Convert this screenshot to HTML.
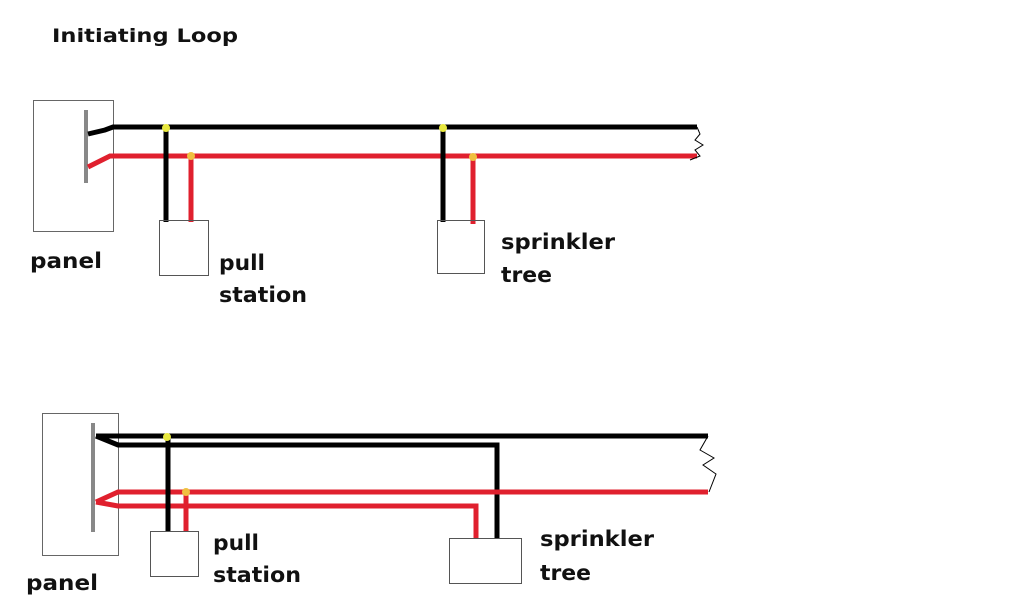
<!DOCTYPE html>
<html><head><style>
body{margin:0;background:#fff;width:1024px;height:600px;overflow:hidden}
svg text{font-family:"DejaVu Sans","Liberation Sans",sans-serif;font-weight:bold;fill:#111}
</style></head><body>
<svg width="1024" height="600" viewBox="0 0 1024 600">
<text x="52" y="42" font-size="19" textLength="186" lengthAdjust="spacingAndGlyphs">Initiating Loop</text>
<!-- top -->
<rect x="33.5" y="100.5" width="80" height="131" fill="#fff" stroke="#666" stroke-width="1"/>
<line x1="86" y1="110" x2="86" y2="183" stroke="#888" stroke-width="4"/>
<polyline points="88,134 105,130 113,127 697,127" fill="none" stroke="#000" stroke-width="5"/>
<polyline points="88,167 110,156 697,156" fill="none" stroke="#e0202e" stroke-width="5"/>
<polyline points="697,127 700,134 695,140 703,145 695,150 700,156 690,160" fill="none" stroke="#000" stroke-width="1"/>
<line x1="166" y1="128" x2="166" y2="222" stroke="#000" stroke-width="5"/>
<line x1="191" y1="156" x2="191" y2="222" stroke="#e0202e" stroke-width="5"/>
<line x1="443" y1="128" x2="443" y2="222" stroke="#000" stroke-width="5"/>
<line x1="473" y1="157" x2="473" y2="224" stroke="#e0202e" stroke-width="5"/>
<circle cx="166" cy="128" r="4" fill="#e8e840"/>
<circle cx="191" cy="156" r="4" fill="#f0c040"/>
<circle cx="443" cy="128" r="4" fill="#e8e840"/>
<circle cx="473" cy="157" r="4" fill="#f0c040"/>
<rect x="159.5" y="220.5" width="49" height="55" fill="none" stroke="#555" stroke-width="1"/>
<rect x="437.5" y="220.5" width="47" height="53" fill="none" stroke="#555" stroke-width="1"/>
<text x="30" y="268" font-size="21" textLength="72" lengthAdjust="spacingAndGlyphs">panel</text>
<text x="219" y="270" font-size="21" textLength="46" lengthAdjust="spacingAndGlyphs">pull</text>
<text x="219" y="302" font-size="21" textLength="88" lengthAdjust="spacingAndGlyphs">station</text>
<text x="501" y="249" font-size="21" textLength="114" lengthAdjust="spacingAndGlyphs">sprinkler</text>
<text x="501" y="282" font-size="21" textLength="51" lengthAdjust="spacingAndGlyphs">tree</text>
<!-- bottom -->
<rect x="42.5" y="413.5" width="76" height="142" fill="#fff" stroke="#666" stroke-width="1"/>
<line x1="93" y1="423" x2="93" y2="532" stroke="#888" stroke-width="4"/>
<polyline points="96,436 708,436" fill="none" stroke="#000" stroke-width="5"/>
<polyline points="96,436 118,445 497,445 497,540" fill="none" stroke="#000" stroke-width="5"/>
<polyline points="96,502 118,492 708,492" fill="none" stroke="#e0202e" stroke-width="5"/>
<polyline points="96,502 118,506 476,506 476,538" fill="none" stroke="#e0202e" stroke-width="5"/>
<polyline points="708,436 700,450 714,458 703,465 716,474 709,492" fill="none" stroke="#000" stroke-width="1"/>
<line x1="168" y1="437" x2="168" y2="534" stroke="#000" stroke-width="5"/>
<line x1="186" y1="492" x2="186" y2="534" stroke="#e0202e" stroke-width="5"/>
<circle cx="167" cy="437" r="4" fill="#e8e840"/>
<circle cx="186" cy="492" r="4" fill="#f0c040"/>
<rect x="150.5" y="531.5" width="48" height="45" fill="#fff" stroke="#555" stroke-width="1"/>
<rect x="449.5" y="538.5" width="72" height="45" fill="#fff" stroke="#555" stroke-width="1"/>
<text x="26" y="590" font-size="21" textLength="72" lengthAdjust="spacingAndGlyphs">panel</text>
<text x="213" y="550" font-size="21" textLength="46" lengthAdjust="spacingAndGlyphs">pull</text>
<text x="213" y="582" font-size="21" textLength="88" lengthAdjust="spacingAndGlyphs">station</text>
<text x="540" y="546" font-size="21" textLength="114" lengthAdjust="spacingAndGlyphs">sprinkler</text>
<text x="540" y="580" font-size="21" textLength="51" lengthAdjust="spacingAndGlyphs">tree</text>
</svg>
</body></html>
